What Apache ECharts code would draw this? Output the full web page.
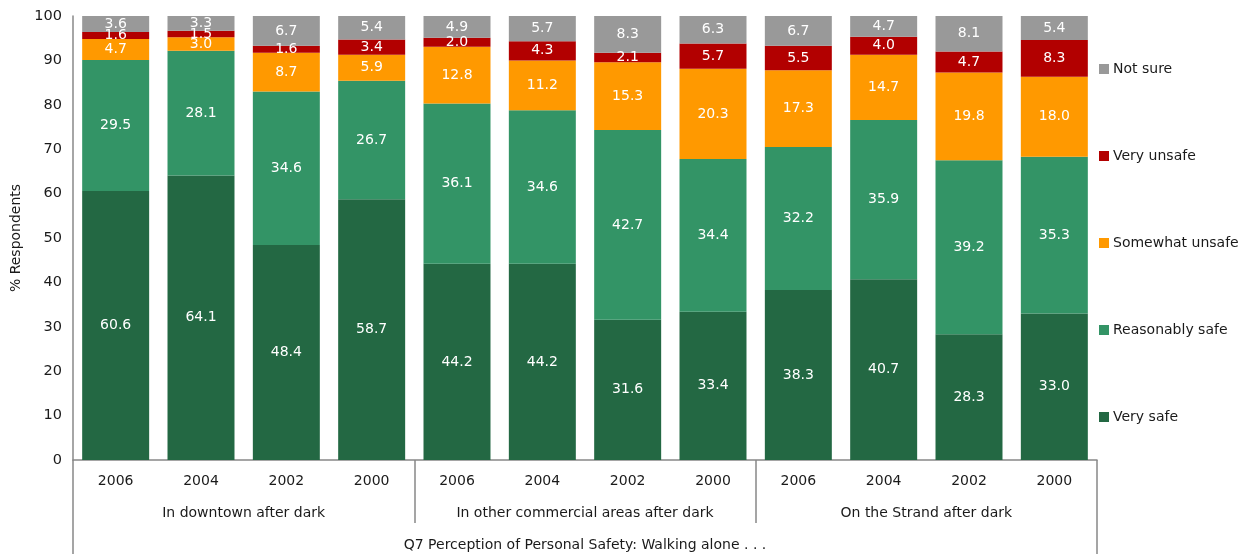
<!DOCTYPE html>
<html>
<head>
<meta charset="utf-8">
<script src="https://cdn.jsdelivr.net/npm/echarts@6/dist/echarts.min.js"></script>
<style>
  html, body { margin: 0; padding: 0; background: #fff; }
  #chart { width: 1243px; height: 554px; }
</style>
</head>
<body>
<div id="chart"></div>
<script>
// Survey question and grouping of the x axis
const surveyTitle = 'Q7 Perception of Personal Safety: Walking alone . . .';
const groups = ['In downtown after dark', 'In other commercial areas after dark', 'On the Strand after dark'];

// One category per (group, year) bar, in display order
const categories = [
  '2006', '2004', '2002', '2000',
  '2006', '2004', '2002', '2000',
  '2006', '2004', '2002', '2000'
];

// Percent of respondents for each rating, bottom to top of each stack
const verySafe        = [60.6, 64.1, 48.4, 58.7, 44.2, 44.2, 31.6, 33.4, 38.3, 40.7, 28.3, 33.0];
const reasonablySafe  = [29.5, 28.1, 34.6, 26.7, 36.1, 34.6, 42.7, 34.4, 32.2, 35.9, 39.2, 35.3];
const somewhatUnsafe  = [4.7, 3.0, 8.7, 5.9, 12.8, 11.2, 15.3, 20.3, 17.3, 14.7, 19.8, 18.0];
const veryUnsafe      = [1.6, 1.5, 1.6, 3.4, 2.0, 4.3, 2.1, 5.7, 5.5, 4.0, 4.7, 8.3];
const notSure         = [3.6, 3.3, 6.7, 5.4, 4.9, 5.7, 8.3, 6.3, 6.7, 4.7, 8.1, 5.4];

const yTicks = [0, 10, 20, 30, 40, 50, 60, 70, 80, 90, 100];

const FONT = 'DejaVu Sans';
const TEXT = '#1a1a1a';
const AXIS = '#888888';

const seriesDefs = [
  { name: 'Very safe',       data: verySafe,       color: '#236843' },
  { name: 'Reasonably safe', data: reasonablySafe, color: '#339466' },
  { name: 'Somewhat unsafe', data: somewhatUnsafe, color: '#ff9900' },
  { name: 'Very unsafe',     data: veryUnsafe,     color: '#b20000' },
  { name: 'Not sure',        data: notSure,        color: '#999999' }
];

const chart = echarts.init(document.getElementById('chart'), null, { renderer: 'canvas' });

chart.setOption({
  animation: false,
  textStyle: { fontFamily: FONT },
  grid: { left: 73, top: 16, width: 1024, height: 444 },
  legend: {
    orient: 'vertical',
    left: 1094,
    top: 57,
    padding: [5, 0, 5, 5],
    itemWidth: 10,
    itemHeight: 10,
    itemGap: 73,
    icon: 'rect',
    data: ['Not sure', 'Very unsafe', 'Somewhat unsafe', 'Reasonably safe', 'Very safe'],
    textStyle: { fontFamily: FONT, fontSize: 14, color: TEXT, padding: [0, 0, 0, -1] }
  },
  xAxis: [
    {
      type: 'category',
      data: categories,
      position: 'bottom',
      axisLine: { show: true, lineStyle: { color: AXIS, width: 1.5 } },
      axisTick: { show: false },
      axisLabel: { margin: 14, fontSize: 14, color: TEXT, fontFamily: FONT }
    },
    {
      type: 'category',
      data: groups,
      position: 'bottom',
      axisLine: { show: false },
      axisTick: { show: true, length: 63, lineStyle: { color: AXIS, width: 1.5 } },
      axisLabel: { margin: 46, fontSize: 14, color: TEXT, fontFamily: FONT }
    },
    {
      type: 'category',
      data: [surveyTitle],
      position: 'bottom',
      axisLine: { show: false },
      axisTick: { show: true, length: 94, lineStyle: { color: AXIS, width: 1.5 } },
      axisLabel: { margin: 78, fontSize: 14, color: TEXT, fontFamily: FONT }
    }
  ],
  yAxis: {
    type: 'value',
    min: yTicks[0],
    max: yTicks[yTicks.length - 1],
    interval: yTicks[1] - yTicks[0],
    name: '% Respondents',
    nameLocation: 'middle',
    nameGap: 49,
    nameRotate: 90,
    nameTextStyle: { fontSize: 14, color: TEXT, fontFamily: FONT },
    splitLine: { show: false },
    axisTick: { show: false },
    axisLine: { show: true, lineStyle: { color: AXIS, width: 1.5 } },
    axisLabel: { margin: 11, fontSize: 14.5, color: TEXT, fontFamily: FONT }
  },
  series: seriesDefs.map(s => ({
    name: s.name,
    type: 'bar',
    stack: 'total',
    xAxisIndex: 0,
    data: s.data,
    barWidth: '78.5%',
    itemStyle: { color: s.color },
    label: {
      show: true,
      position: 'inside',
      formatter: p => p.value.toFixed(1),
      color: '#ffffff',
      fontSize: 14,
      fontFamily: FONT
    }
  }))
});
</script>
</body>
</html>
